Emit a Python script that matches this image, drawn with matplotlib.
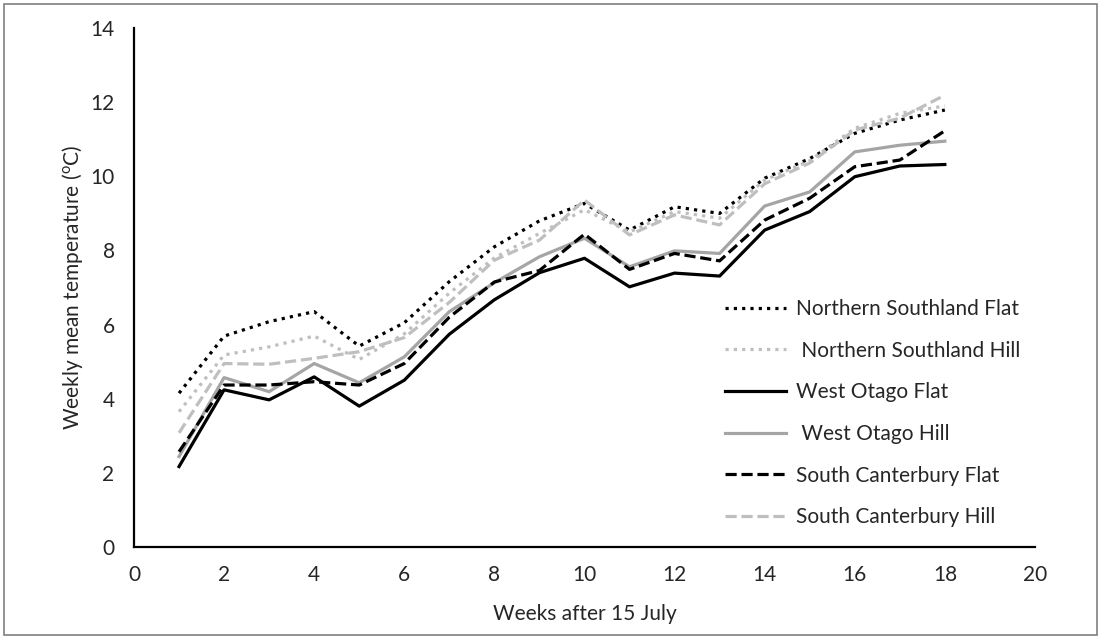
import matplotlib
matplotlib.use('Agg')
import matplotlib.pyplot as plt
from matplotlib.patches import Rectangle

# data
weeks = list(range(1, 19))
ns_flat = [4.15, 5.69, 6.08, 6.35, 5.42, 6.05, 7.16, 8.1, 8.8, 9.27, 8.55, 9.18, 9.0, 9.95, 10.48, 11.16, 11.52, 11.79]
ns_hill = [3.65, 5.18, 5.4, 5.69, 5.06, 5.75, 6.85, 7.8, 8.46, 9.1, 8.5, 9.05, 8.87, 9.9, 10.42, 11.3, 11.7, 11.9]
wo_flat = [2.17, 4.24, 3.97, 4.59, 3.8, 4.5, 5.74, 6.67, 7.4, 7.79, 7.02, 7.39, 7.31, 8.55, 9.05, 9.99, 10.28, 10.32]
wo_hill = [2.44, 4.57, 4.19, 4.95, 4.43, 5.13, 6.35, 7.13, 7.83, 8.33, 7.56, 7.99, 7.92, 9.2, 9.58, 10.66, 10.84, 10.95]
sc_flat = [2.57, 4.37, 4.37, 4.46, 4.37, 4.95, 6.2, 7.15, 7.46, 8.44, 7.49, 7.92, 7.72, 8.82, 9.41, 10.26, 10.44, 11.23]
sc_hill = [3.08, 4.95, 4.93, 5.09, 5.27, 5.65, 6.6, 7.74, 8.28, 9.36, 8.42, 8.96, 8.69, 9.8, 10.36, 11.25, 11.57, 12.19]

labels = ['Northern Southland Flat', ' Northern Southland Hill', 'West Otago Flat',
          ' West Otago Hill', 'South Canterbury Flat', 'South Canterbury Hill']

plt.rcParams['font.family'] = ['Lato', 'DejaVu Sans']
plt.rcParams['mathtext.fontset'] = 'custom'
plt.rcParams['mathtext.rm'] = 'Lato'
txt = '#262626'
fs = 15
dot = (0, (1, 1.6))
dash = (0, (3.5, 1.5))
lw = 2.3

fig = plt.figure(figsize=(11.01, 6.39), dpi=100)
ax = fig.add_axes([0.1217, 0.144, 0.8183, 0.812])

ax.plot(weeks, ns_flat, color='black', lw=lw, linestyle=dot, label=labels[0])
ax.plot(weeks, ns_hill, color='#BFBFBF', lw=lw, linestyle=dot, label=labels[1])
ax.plot(weeks, wo_flat, color='black', lw=lw, label=labels[2])
ax.plot(weeks, wo_hill, color='#A5A5A5', lw=lw, label=labels[3])
ax.plot(weeks, sc_flat, color='black', lw=lw, linestyle=dash, label=labels[4])
ax.plot(weeks, sc_hill, color='#BFBFBF', lw=lw, linestyle=dash, label=labels[5])

ax.set_xlim(0, 20)
ax.set_ylim(0, 14)
ax.set_xticks(range(0, 21, 2))
ax.set_yticks(range(0, 15, 2))
for s in ['top', 'right']:
    ax.spines[s].set_visible(False)
for s in ['left', 'bottom']:
    ax.spines[s].set_linewidth(1.6)
    ax.spines[s].set_color('black')
ax.tick_params(axis='both', length=0, labelsize=fs, labelcolor=txt)
ax.tick_params(axis='x', pad=13)
ax.tick_params(axis='y', pad=14)

ax.set_xlabel('Weeks after 15 July', fontsize=fs, color=txt, labelpad=14)
ax.set_ylabel('Weekly mean temperature ($\\mathregular{^{o}}$C)', fontsize=fs, color=txt, labelpad=4)

ax.legend(loc='upper left', bbox_to_anchor=(0.647, 0.494), frameon=False,
          fontsize=fs, labelspacing=1.04, handlelength=2.9, handletextpad=0.48,
          labelcolor=txt, borderaxespad=0)

fig.add_artist(Rectangle((4 / 1101, 4 / 639), 1093 / 1101, 631 / 639, transform=fig.transFigure,
                         fill=False, edgecolor='#7F7F7F', linewidth=1.2))

fig.savefig('out.png', dpi=100)
